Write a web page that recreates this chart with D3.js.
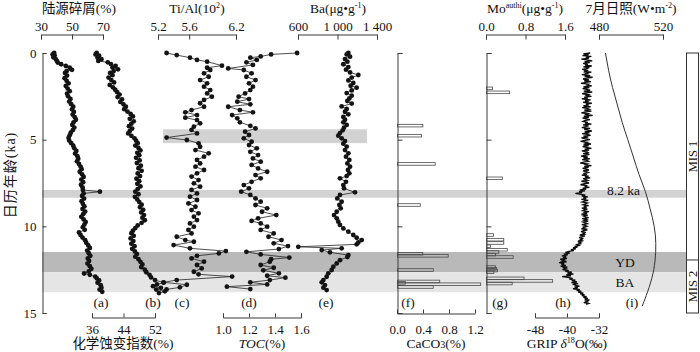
<!DOCTYPE html>
<html><head><meta charset="utf-8">
<script src="https://cdn.jsdelivr.net/npm/d3@7"></script>
<style>body{margin:0;background:#fff}svg{display:block}</style>
</head><body>
<svg width="700" height="352"></svg>
<script>
// ---------------- DATA ----------------
const ageTicks = [0, 5, 10, 15];
const eventBands = [[7.9, 8.35], [11.48, 12.64], [12.64, 13.8]];   // 8.2 ka, YD, BA
const eventLabels = ["8.2 ka", "YD", "BA"];
const tiBand = [4.4, 5.2];
const misBoundary = 11.94;
const misLabels = ["MIS 1", "MIS 2"];
const panelLabels = ["(a)", "(b)", "(c)", "(d)", "(e)", "(f)", "(g)", "(h)", "(i)"];

const detritalTicks = [30, 50, 70];
const ciaTicks = [36, 44, 52];
const tialTicks = [5.2, 5.6, 6.2];
const tocTicks = [1.0, 1.2, 1.4, 1.6];
const baTicks = [600, 1000, 1400];
const caco3Ticks = [0.0, 0.4, 0.8, 1.2];
const moTicks = [0.0, 0.8, 1.6];
const gripTicks = [-48, -40, -32];
const insolTicks = [480, 520];

// (a) detrital % [age ka, value]
const detrital = [[0.00,38.5],[0.08,37.5],[0.15,38.8],[0.25,38.0],[0.35,39.5],[0.45,40.2],[0.55,40.8],[0.65,43.0],[0.75,46.0],[0.85,48.5],[0.97,50.0],[1.05,46.5],[1.15,45.5],[1.30,46.8],[1.45,45.2],[1.60,46.5],[1.75,47.8],[1.90,46.0],[2.05,47.2],[2.20,48.5],[2.35,46.8],[2.50,47.5],[2.65,49.0],[2.80,48.2],[2.95,49.5],[3.10,50.8],[3.25,50.0],[3.40,51.2],[3.55,50.4],[3.70,51.8],[3.85,52.5],[4.00,51.0],[4.15,50.2],[4.30,51.5],[4.45,50.5],[4.60,49.2],[4.75,48.5],[4.90,47.8],[5.05,48.2],[5.20,49.5],[5.35,50.8],[5.50,51.5],[5.65,52.8],[5.80,52.0],[5.95,53.5],[6.10,54.0],[6.25,53.2],[6.40,54.5],[6.55,55.5],[6.70,56.2],[6.85,55.0],[7.00,56.5],[7.15,57.5],[7.30,56.0],[7.45,57.2],[7.60,55.8],[7.75,56.8],[7.90,57.0],[8.00,68.0],[8.10,57.5],[8.25,56.5],[8.40,57.8],[8.55,56.2],[8.70,57.0],[8.85,58.0],[9.00,56.8],[9.15,58.5],[9.30,57.2],[9.45,56.0],[9.60,57.5],[9.75,58.8],[9.90,58.0],[10.05,57.0],[10.20,58.2],[10.35,54.5],[10.50,55.5],[10.65,56.8],[10.80,58.5],[10.95,59.2],[11.10,60.5],[11.25,61.5],[11.40,59.8],[11.55,60.8],[11.70,61.8],[11.85,60.2],[12.00,61.0],[12.15,60.0],[12.30,61.5],[12.45,62.5],[12.60,60.8],[12.72,57.8],[12.80,61.5],[12.90,65.0],[13.00,66.0],[13.12,67.5],[13.25,66.5],[13.40,68.5],[13.55,69.0],[13.65,67.8],[13.78,69.5]];
// (b) CIA %
const cia = [[0.00,37.2],[0.08,36.9],[0.16,37.8],[0.26,37.4],[0.36,38.4],[0.46,37.6],[0.54,40.0],[0.64,40.8],[0.74,42.0],[0.84,41.2],[0.94,42.6],[1.04,41.5],[1.15,40.6],[1.28,41.2],[1.42,40.2],[1.56,40.9],[1.70,41.6],[1.84,40.5],[1.98,41.3],[2.12,41.9],[2.26,42.4],[2.40,43.0],[2.54,42.5],[2.68,43.6],[2.82,43.2],[2.96,44.0],[3.10,44.6],[3.24,44.2],[3.38,45.0],[3.52,45.8],[3.66,46.4],[3.80,45.6],[3.94,46.6],[4.08,46.0],[4.22,45.4],[4.36,46.2],[4.50,45.6],[4.64,45.2],[4.78,46.0],[4.92,46.8],[5.06,47.2],[5.20,47.6],[5.34,47.0],[5.48,47.8],[5.62,48.3],[5.76,47.5],[5.90,48.0],[6.05,47.2],[6.20,48.1],[6.35,47.4],[6.50,48.4],[6.65,47.8],[6.80,48.6],[6.95,47.6],[7.10,48.2],[7.25,47.3],[7.40,48.0],[7.55,47.5],[7.70,48.3],[7.85,47.6],[8.00,47.0],[8.15,47.8],[8.30,46.9],[8.45,47.5],[8.60,48.0],[8.75,48.6],[8.90,48.2],[9.05,49.0],[9.20,48.5],[9.35,49.2],[9.50,48.8],[9.65,49.4],[9.80,48.6],[9.95,47.6],[10.10,47.0],[10.25,46.4],[10.40,46.0],[10.55,46.6],[10.70,45.8],[10.85,46.5],[11.00,46.0],[11.15,46.8],[11.30,46.2],[11.45,46.9],[11.60,47.4],[11.75,47.0],[11.90,47.8],[12.05,48.3],[12.20,48.8],[12.35,48.5],[12.50,49.4],[12.65,49.8],[12.80,50.6],[12.95,51.0],[13.10,52.0],[13.25,54.2],[13.35,52.5],[13.45,51.5],[13.55,53.5],[13.65,52.3],[13.75,54.5],[13.85,53.0]];
// (c) Ti/Al (10^2)
const tial = [[0.00,5.31],[0.12,5.44],[0.27,5.61],[0.40,5.70],[0.50,5.83],[0.73,6.02],[0.85,5.83],[0.98,5.87],[1.17,5.79],[1.37,5.85],[1.56,5.74],[1.75,5.83],[1.94,5.79],[2.14,5.87],[2.33,5.83],[2.52,5.89],[2.71,5.79],[2.90,5.74],[3.10,5.79],[3.29,5.63],[3.42,5.55],[3.58,5.70],[3.73,5.55],[3.87,5.70],[4.06,5.74],[4.25,5.66],[4.44,5.63],[4.64,5.70],[4.88,5.31],[5.02,5.57],[5.21,5.72],[5.41,5.74],[5.60,5.68],[5.79,5.85],[5.98,5.79],[6.17,5.70],[6.37,5.74],[6.56,5.68],[6.75,5.79],[6.94,5.70],[7.13,5.63],[7.33,5.72],[7.52,5.66],[7.71,5.74],[7.90,5.63],[8.10,5.70],[8.29,5.61],[8.48,5.70],[8.68,5.59],[8.87,5.68],[9.06,5.63],[9.25,5.72],[9.44,5.66],[9.64,5.70],[9.83,5.61],[10.02,5.66],[10.21,5.59],[10.41,5.63],[10.60,5.44],[10.79,5.55],[10.89,5.66],[11.08,5.40],[11.27,5.61],[11.43,6.07],[11.56,5.98],[11.70,5.70],[11.85,5.63],[12.04,5.79],[12.23,5.70],[12.43,5.76],[12.62,5.66],[12.77,5.72],[12.90,6.15],[13.10,5.44],[13.23,5.27],[13.37,5.57],[13.52,5.48],[13.64,5.31]];
// (d) TOC %
const toc = [[0.00,1.57],[0.08,1.37],[0.20,1.29],[0.27,1.21],[0.40,1.26],[0.54,1.18],[0.69,1.23],[0.89,1.04],[0.98,1.16],[1.17,1.22],[1.37,1.18],[1.56,1.25],[1.75,1.20],[1.94,1.23],[2.14,1.21],[2.33,1.17],[2.52,1.12],[2.66,1.20],[2.81,1.11],[2.96,1.21],[3.10,1.04],[3.29,1.13],[3.42,1.23],[3.58,1.07],[3.77,1.11],[4.00,1.13],[4.20,1.21],[4.35,1.25],[4.54,1.17],[4.73,1.20],[4.92,1.16],[5.12,1.22],[5.31,1.20],[5.50,1.26],[5.70,1.21],[5.89,1.27],[6.08,1.23],[6.27,1.29],[6.46,1.22],[6.66,1.27],[6.85,1.34],[7.04,1.25],[7.23,1.29],[7.43,1.22],[7.62,1.16],[7.81,1.20],[8.00,1.14],[8.19,1.21],[8.39,1.25],[8.58,1.29],[8.77,1.25],[8.96,1.34],[9.16,1.30],[9.35,1.41],[9.54,1.27],[9.69,1.22],[9.83,1.29],[10.02,1.34],[10.21,1.29],[10.41,1.39],[10.60,1.35],[10.79,1.45],[10.98,1.39],[11.14,1.50],[11.31,1.43],[11.47,1.18],[11.62,1.29],[11.80,1.51],[11.90,1.37],[12.04,1.36],[12.23,1.29],[12.39,1.39],[12.54,1.31],[12.71,1.43],[12.85,1.34],[12.96,1.48],[13.10,1.36],[13.23,1.21],[13.35,1.34],[13.48,1.03],[13.62,1.21]];
// (e) Ba µg/g
const ba = [[0.00,1110],[0.08,1093],[0.21,1127],[0.35,1076],[0.50,1100],[0.65,1059],[0.81,1110],[0.96,1086],[1.12,1127],[1.27,1211],[1.42,1144],[1.58,1110],[1.73,1160],[1.89,1133],[2.00,1194],[2.16,1144],[2.31,1093],[2.46,1144],[2.62,1120],[2.77,1100],[2.92,1144],[3.08,1042],[3.23,1093],[3.39,1076],[3.54,1110],[3.69,1059],[3.85,1076],[4.00,1059],[4.15,1093],[4.31,1066],[4.46,1052],[4.62,1025],[4.77,1008],[4.92,1042],[5.08,1076],[5.23,1059],[5.40,1093],[5.60,1076],[5.79,1110],[5.98,1086],[6.17,1120],[6.37,1100],[6.56,1127],[6.75,1106],[6.94,1120],[7.10,1093],[7.23,1025],[7.43,1086],[7.62,1059],[7.81,1066],[8.04,1177],[8.19,1025],[8.39,998],[8.58,1042],[8.77,1019],[8.96,1032],[9.16,992],[9.35,965],[9.54,992],[9.73,1008],[9.92,1025],[10.12,1059],[10.31,1110],[10.50,1160],[10.66,1194],[10.79,1245],[10.93,1211],[11.04,1194],[11.18,603],[11.27,1042],[11.37,840],[11.50,924],[11.66,1110],[11.77,1100],[11.95,1025],[12.14,992],[12.33,958],[12.52,941],[12.71,907],[12.91,890],[13.10,857],[13.23,840],[13.39,873],[13.54,857],[13.68,890]];
// (f) CaCO3 %
const caco3 = [[4.19,0.39],[4.77,0.37],[6.40,0.58],[8.77,0.35],[11.58,0.39],[11.70,0.78],[12.52,0.55],[13.18,0.65],[13.26,0.12],[13.34,1.28],[13.50,0.55]];
// (g) Mo authigenic µg/g
const moAuthi = [[2.04,0.12],[2.27,0.47],[7.23,0.32],[10.50,0.14],[10.77,0.35],[10.96,0.35],[11.15,0.08],[11.35,0.42],[11.48,0.25],[11.63,0.18],[11.77,0.54],[12.35,0.18],[12.45,0.20],[12.55,0.22],[12.65,0.15],[13.00,0.76],[13.15,1.34],[13.30,0.52]];
// (h) GRIP d18O, one value every 0.05 ka from 0 ka
const gripStep = 0.05;
const gripD18O = [
 -34.2,-35.9,-34.6,-36.1,-33.9,-35.3,-34.5,-36.4,-35.0,-33.7,-35.6,-34.3,-36.0,-34.8,-35.5,-33.8,-35.9,-34.4,-35.2,-36.2,
 -34.7,-35.8,-33.9,-35.4,-34.9,-36.3,-34.2,-35.6,-33.6,-35.1,-36.0,-34.5,-35.7,-34.0,-35.3,-36.5,-34.6,-35.0,-33.8,-35.9,
 -34.4,-36.1,-35.0,-34.2,-35.8,-33.7,-35.4,-36.2,-34.6,-35.1,-33.9,-35.7,-34.8,-36.3,-34.1,-35.5,-34.9,-36.0,-33.8,-35.3,
 -34.6,-35.9,-34.1,-36.2,-35.0,-34.4,-35.7,-33.9,-35.4,-36.4,-34.7,-35.2,-33.6,-35.8,-34.5,-36.1,-35.1,-34.3,-35.6,-36.0,
 -34.8,-35.5,-33.9,-36.0,-34.6,-35.3,-36.3,-34.2,-35.7,-34.9,-33.8,-35.6,-34.4,-36.2,-35.0,-34.1,-35.9,-34.7,-36.4,-35.2,
 -34.3,-35.8,-36.6,-34.9,-35.4,-34.0,-35.9,-34.6,-36.1,-35.2,-33.9,-35.6,-34.5,-36.3,-35.0,-34.7,-36.0,-34.4,-35.5,-36.5,
 -34.8,-35.9,-34.3,-36.2,-35.1,-34.6,-35.8,-36.7,-34.9,-35.4,-33.9,-35.7,-34.6,-36.1,-35.3,-34.5,-36.0,-35.2,-34.7,-35.9,
 -35.0,-36.3,-34.6,-35.5,-34.2,-36.0,-35.3,-34.8,-36.4,-35.1,-34.5,-35.9,-36.6,-34.9,-35.6,-34.4,-36.1,-35.2,-36.8,-35.5,
 -37.0,-36.2,-37.9,-36.5,-35.4,-36.3,-34.8,-35.9,-35.2,-36.4,-34.7,-35.6,-36.2,-34.9,-35.5,-36.0,-34.6,-35.8,-35.1,-36.3,
 -34.9,-35.7,-36.1,-34.5,-35.6,-35.0,-36.4,-34.8,-35.9,-35.3,-34.6,-36.2,-35.1,-35.7,-34.7,-36.0,-35.4,-34.9,-36.3,-35.5,
 -35.0,-36.1,-35.4,-36.4,-34.9,-35.8,-36.5,-35.3,-36.0,-35.6,-36.8,-35.5,-36.3,-37.0,-35.9,-36.6,-36.2,-37.3,-36.4,-37.0,
 -36.6,-37.5,-37.0,-38.1,-37.4,-38.5,-37.8,-39.0,-38.3,-39.5,-40.4,-39.3,-40.8,-39.8,-41.3,-40.2,-41.0,-40.0,-41.7,-40.6,
 -41.2,-40.1,-42.0,-40.7,-41.4,-40.3,-41.6,-39.9,-40.8,-40.2,-41.1,-39.6,-40.4,-38.8,-39.9,-38.4,-40.2,-39.0,-41.2,-39.8,
 -38.6,-39.4,-37.9,-38.8,-37.5,-38.9,-37.2,-38.3,-37.8,-36.9,-38.1,-37.3,-38.5,-36.8,-37.6,-36.4,-37.2,-35.9,-36.7,-35.6,
 -36.3,-35.1,-35.9,-34.8,-35.6,-34.4,-35.3,-34.9,-35.8,-34.6,-35.2];
// (i) July insolation W/m2
const insolation = [[0,484],[1,486],[2,488.5],[3,491.5],[4,494.5],[5,498],[6,501.5],[7,505],[8,509],[9,512],[10,514.5],[11,515.5],[12,515],[13,513],[14,509.5],[14.6,507]];

// ---------------- DRAW ----------------
const FF = "'Liberation Serif','Times New Roman','Noto Sans CJK SC',serif";
const svg = d3.select("svg");
const y = d3.scaleLinear().domain([0, 15]).range([53, 313]);

const xA = d3.scaleLinear([30, 70], [41, 103]);
const xB = d3.scaleLinear([36, 52], [92, 155]);
const xC = d3.scaleLinear([5.2, 6.2], [158, 236]);
const xD = d3.scaleLinear([1.0, 1.6], [223, 301]);
const xE = d3.scaleLinear([600, 1400], [298, 377]);
const xF = d3.scaleLinear([0, 1.2], [397, 475]);
const xG = d3.scaleLinear([0, 1.6], [486, 565]);
const xH = d3.scaleLinear([-48, -32], [535, 599]);
const xI = d3.scaleLinear([480, 520], [599, 663]);

// bands
const bandFill = ["#d2d2d2", "#b9b9b9", "#e5e5e5"];
svg.append("g").selectAll("rect").data(eventBands).join("rect")
  .attr("x", 42).attr("width", 686 - 42)
  .attr("y", d => y(d[0])).attr("height", d => y(d[1]) - y(d[0]))
  .attr("fill", (d, i) => bandFill[i]);
svg.append("rect").attr("x", 163).attr("width", 367 - 163)
  .attr("y", y(tiBand[0])).attr("height", y(tiBand[1]) - y(tiBand[0])).attr("fill", "#d2d2d2");

function styleAxis(g) {
  g.attr("font-family", null).attr("font-size", null);
  g.selectAll("path,line").attr("stroke", "#3a3a3a").attr("stroke-width", 1);
  g.selectAll("text").attr("font-family", FF).attr("font-size", 13).attr("fill", "#111");
}
const fmtBig = d => d >= 1000 ? d3.format(",")(d).replace(",", " ") : String(d);
function topAxis(sc, ticks, fmt) {
  svg.append("g").attr("transform", "translate(0,34.5)")
    .call(d3.axisTop(sc).tickValues(ticks).tickFormat(fmt).tickSize(-5).tickPadding(4)).call(styleAxis);
}
function bottomAxis(sc, ticks, fmt, yp, pad, outer) {
  svg.append("g").attr("transform", `translate(0,${yp})`)
    .call(d3.axisBottom(sc).tickValues(ticks).tickFormat(fmt).tickSize(-4).tickSizeOuter(outer).tickPadding(pad)).call(styleAxis);
}
topAxis(xA, detritalTicks, d3.format("d"));
topAxis(xC, tialTicks, d3.format(".1f"));
topAxis(xE, baTicks, fmtBig);
topAxis(xG, moTicks, d3.format(".1f"));
topAxis(xI, insolTicks, d3.format("d"));
bottomAxis(xB, ciaTicks, d3.format("d"), 317.5, 7, -4);
bottomAxis(xD, tocTicks, d3.format(".1f"), 317.5, 7, -4);
bottomAxis(xH, gripTicks, d => String(d).replace("\u2212", "-"), 317.5, 7, -4);
bottomAxis(xF, caco3Ticks, d3.format(".1f"), 313.5, 11, 0);

// vertical axes
svg.append("g").attr("transform", "translate(42.5,0)")
  .call(d3.axisLeft(y).tickValues(ageTicks).tickSize(-4).tickPadding(6)).call(styleAxis);
[397, 486].forEach(xp => {
  svg.append("g").attr("transform", `translate(${xp + 0.5},0)`)
    .call(d3.axisLeft(y).tickValues(ageTicks).tickFormat("").tickSize(-5)).call(styleAxis);
});

// bars
function bars(data, sc) {
  svg.append("g").selectAll("rect").data(data).join("rect")
    .attr("x", sc(0) + 0.5).attr("width", d => sc(d[1]) - sc(0))
    .attr("y", d => y(d[0]) - 1.3).attr("height", 2.6)
    .attr("fill", "none").attr("stroke", "#4a4a4a").attr("stroke-width", 0.8);
}
bars(caco3, xF);
bars(moAuthi, xG);

// dotted series
function dotSeries(data, sc) {
  const g = svg.append("g");
  g.append("path").datum(data)
    .attr("d", d3.line().x(d => sc(d[1])).y(d => y(d[0])))
    .attr("fill", "none").attr("stroke", "#222").attr("stroke-width", 0.8);
  g.selectAll("circle").data(data).join("circle")
    .attr("cx", d => sc(d[1])).attr("cy", d => y(d[0])).attr("r", 2.4).attr("fill", "#141414");
}
dotSeries(detrital, xA);
dotSeries(cia, xB);
dotSeries(tial, xC);
dotSeries(toc, xD);
dotSeries(ba, xE);

// GRIP
svg.append("path").datum(gripD18O)
  .attr("d", d3.line().x(d => xH(d)).y((d, i) => y(i * gripStep)))
  .attr("fill", "none").attr("stroke", "#0d0d0d").attr("stroke-width", 1.3);

// insolation
svg.append("path").datum(insolation)
  .attr("d", d3.line().curve(d3.curveNatural).x(d => xI(d[1])).y(d => y(d[0])))
  .attr("fill", "none").attr("stroke", "#333").attr("stroke-width", 1);

// MIS box
svg.append("rect").attr("x", 686.5).attr("y", y(0)).attr("width", 12).attr("height", y(15) - y(0))
  .attr("fill", "none").attr("stroke", "#333");
svg.append("line").attr("x1", 686.5).attr("x2", 698.5).attr("y1", y(misBoundary)).attr("y2", y(misBoundary)).attr("stroke", "#333");
[[misLabels[0], (y(0) + y(misBoundary)) / 2], [misLabels[1], (y(misBoundary) + y(15)) / 2]].forEach(([t, cy]) => {
  svg.append("text").attr("transform", `translate(697,${cy}) rotate(-90)`).attr("text-anchor", "middle")
    .attr("font-family", FF).attr("font-size", 12.5).attr("fill", "#111").text(t);
});

// text helpers
function rich(x, yb, parts, fs, anchor = "middle") {
  const t = svg.append("text").attr("x", x).attr("y", yb).attr("text-anchor", anchor)
    .attr("font-family", FF).attr("font-size", fs).attr("fill", "#111");
  let up = false;
  parts.forEach(p => {
    const o = typeof p === "string" ? { t: p } : p;
    const ts = t.append("tspan").text(o.t);
    if (o.sup) { ts.attr("font-size", fs * 0.6).attr("dy", up ? 0 : -fs * 0.38); up = true; }
    else { if (up) ts.attr("dy", fs * 0.38); up = false; }
    if (o.sub) ts.attr("font-size", fs * 0.75);
    if (o.it) ts.attr("font-style", "italic");
  });
  return t;
}
// top titles
rich(79, 13, ["陆源碎屑(%)"], 13.5);
rich(197, 13, ["Ti/Al(10", { t: "2", sup: 1 }, ")"], 13.5);
rich(338, 13, ["Ba(μg•g", { t: "-1", sup: 1 }, ")"], 13.5);
rich(525, 13, ["Mo", { t: "authi", sup: 1 }, "(μg•g", { t: "-1", sup: 1 }, ")"], 13.5);
rich(631, 13, ["7月日照(W•m", { t: "-2", sup: 1 }, ")"], 13.5);
// bottom titles
rich(123, 348, ["化学蚀变指数(%)"], 13.5);
rich(262, 348, [{ t: "TOC", it: 1 }, "(%)"], 13.5);
rich(436, 348, ["CaCO", { t: "3", sub: 1 }, "(%)"], 13.5);
rich(567, 348, ["GRIP ", { t: "δ", it: 1 }, { t: "18", sup: 1 }, "O(‰)"], 13.5);
// panel labels
const plx = [101, 153, 182, 249, 326, 408, 500, 563, 632];
panelLabels.forEach((t, i) => rich(plx[i], 307, [t], 13.5));
// event labels
rich(607, 195, [eventLabels[0]], 13.5, "start");
rich(625, (y(eventBands[1][0]) + y(eventBands[1][1])) / 2 + 4.5, [eventLabels[1]], 13.5);
rich(625, (y(eventBands[2][0]) + y(eventBands[2][1])) / 2 + 4.5, [eventLabels[2]], 13.5);
// left title
svg.append("text").attr("transform", "translate(15,175) rotate(-90)").attr("text-anchor", "middle")
  .attr("font-family", FF).attr("font-size", 14).attr("letter-spacing", 1).attr("fill", "#111").text("日历年龄(ka)");
</script>
</body></html>
